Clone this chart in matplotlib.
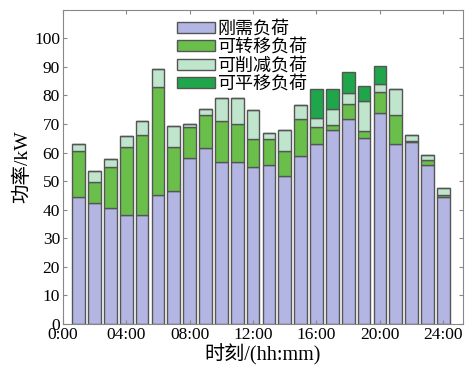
import numpy as np
import matplotlib.pyplot as plt

plt.rcParams['font.family'] = ['Liberation Serif', 'Noto Sans CJK SC']

hours = np.arange(1, 25)
rigid = [44.4, 42.3, 40.5, 38.3, 38.3, 45.3, 46.5, 58.0, 61.7, 56.8, 56.8, 54.8,
         55.8, 51.8, 58.7, 62.9, 68.0, 71.8, 65.0, 73.9, 62.9, 63.6, 55.6, 44.6]
transfer = [16.3, 7.4, 14.3, 23.5, 27.7, 37.7, 15.3, 10.9, 11.3, 14.1, 13.2, 10.1,
            9.1, 8.9, 13.1, 5.9, 1.7, 5.2, 2.7, 7.3, 10.4, 0.6, 1.7, 0.5]
reduce = [2.3, 3.9, 3.0, 4.0, 5.0, 6.4, 7.4, 1.0, 2.3, 8.3, 9.2, 10.0,
          1.9, 7.3, 5.0, 3.3, 5.6, 3.9, 10.3, 2.7, 9.0, 1.8, 1.8, 2.5]
shift = [0, 0, 0, 0, 0, 0, 0, 0, 0, 0, 0, 0,
         0, 0, 0, 10.0, 6.8, 7.4, 5.3, 6.5, 0, 0, 0, 0]

labels = ['刚需负荷', '可转移负荷', '可削减负荷', '可平移负荷']
colors = ['#b3b5e3', '#6abf4b', '#bfe6cc', '#1fa64a']
xticks = [0, 4, 8, 12, 16, 20, 24]
xticklabels = ['0:00', '04:00', '08:00', '12:00', '16:00', '20:00', '24:00']

fig = plt.figure(figsize=(4.65, 3.78), dpi=100)
ax = fig.add_axes([0.135, 0.143, 0.861, 0.831])

bottom = np.zeros(len(hours))
for vals, c, lab in zip([rigid, transfer, reduce, shift], colors, labels):
    ax.bar(hours, vals, width=0.8, bottom=bottom, color=c,
           edgecolor='#555555', linewidth=1.0, label=lab)
    bottom += np.array(vals)

ax.set_xlim(0, 25.25)
ax.set_ylim(0, 110)
ax.set_xticks(xticks)
ax.set_xticklabels(xticklabels)
ax.set_yticks(np.arange(0, 101, 10))
ax.tick_params(direction='in', top=True, right=True, labelsize=12.5,
               color='#888888', length=3, pad=2)
for s in ax.spines.values():
    s.set_color('#888888')

ax.set_xlabel('时刻/(hh:mm)', fontsize=14.5, labelpad=1)
ax.set_ylabel('功率/kW', fontsize=14, labelpad=2)

ax.legend(loc='upper left', bbox_to_anchor=(0.258, 1.0), frameon=False,
          fontsize=13, handlelength=2.1, handleheight=0.55,
          labelspacing=0.08, handletextpad=0.15, borderaxespad=0.4,
          borderpad=0.2)

fig.savefig('out.png', dpi=100)
